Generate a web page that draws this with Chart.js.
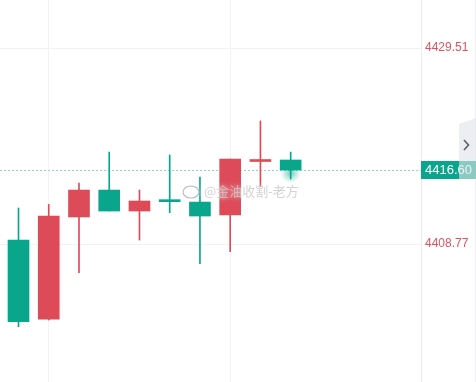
<!DOCTYPE html>
<html>
<head>
<meta charset="utf-8">
<script src="https://cdn.jsdelivr.net/npm/chart.js@4"></script>
<style>
  html, body { margin: 0; padding: 0; background: #fff; }
  #wrap { width: 476px; height: 382px; }
</style>
</head>
<body>
<div id="wrap"><canvas id="kline"></canvas></div>
<script>
// candle values
const opens  = [4409.19, 4400.83, 4411.63, 4414.48, 4412.26, 4413.45, 4413.21, 4411.84, 4417.50, 4417.66];
const closes = [4400.55, 4411.73, 4414.48, 4412.26, 4413.32, 4413.25, 4411.73, 4417.76, 4417.70, 4416.60];
const highs  = [4412.58, 4412.96, 4415.22, 4418.50, 4414.48, 4418.19, 4415.86, 4417.76, 4421.79, 4418.50];
const lows   = [4400.02, 4400.73, 4405.73, 4412.26, 4409.19, 4412.08, 4406.69, 4407.96, 4414.83, 4415.65];
const yTicks = [4408.77, 4429.51];
const lastPrice = 4416.60;
const watermark = '@金油收割-老方';

const UP = '#dd4b59';
const DOWN = '#0aa68b';
const GRID = '#f1f2f5';

var wicks = [], bodies = [], cols = [];
opens.forEach((o, i) => {
    wicks.push({x: i, y: [lows[i], highs[i]]});
    bodies.push({x: i, y: [o, closes[i]]});
    cols.push(closes[i] >= o ? UP : DOWN);
});

const extras = {
    id: 'extras',
    beforeDatasetsDraw(chart) {
        const ctx = chart.ctx, a = chart.chartArea;
        const y = Math.round(chart.scales.y.getPixelForValue(lastPrice)) + 0.5;
        ctx.save();
        ctx.strokeStyle = '#8fd9c9';
        ctx.lineWidth = 1;
        ctx.setLineDash([2, 2]);
        ctx.beginPath();
        ctx.moveTo(a.left, y);
        ctx.lineTo(a.right, y);
        ctx.stroke();
        ctx.restore();
    },
    afterDatasetsDraw(chart) {
        const ctx = chart.ctx, a = chart.chartArea;
        const xs = chart.scales.x;
        const y = chart.scales.y.getPixelForValue(lastPrice);
        const lx = xs.getPixelForValue(opens.length - 1);
        ctx.save();
        // watermark, drawn over the candles
        ctx.filter = 'blur(0.5px)';
        ctx.shadowColor = 'rgba(255,255,255,0.9)';
        ctx.shadowBlur = 4;
        ctx.fillStyle = 'rgba(200,200,200,0.8)';
        ctx.font = '13px "Noto Sans CJK SC"';
        ctx.textBaseline = 'middle';
        ctx.fillText(watermark, 204, 191);
        ctx.strokeStyle = 'rgba(175,175,175,0.85)';
        ctx.lineWidth = 1.2;
        ctx.beginPath();
        ctx.ellipse(191, 192, 8, 6, 0, 0, Math.PI * 2);
        ctx.stroke();
        ctx.filter = 'none';
        ctx.shadowBlur = 0;
        // glow under the last candle
        const g = ctx.createRadialGradient(lx, y + 3, 0, lx, y + 3, 10);
        g.addColorStop(0, 'rgba(10,166,139,0.55)');
        g.addColorStop(1, 'rgba(10,166,139,0)');
        ctx.fillStyle = g;
        ctx.fillRect(lx - 12, y - 2, 24, 16);
        // outer right edge line
        ctx.fillStyle = '#eeeef2';
        ctx.fillRect(475, 0, 1, chart.height);
        // last price tag
        ctx.fillStyle = DOWN;
        ctx.fillRect(a.right, Math.round(y) - 9, chart.width - a.right, 18);
        ctx.fillStyle = '#fff';
        ctx.font = '13px "Liberation Sans", Arial, sans-serif';
        ctx.textBaseline = 'middle';
        ctx.fillText(lastPrice.toFixed(2), a.right + 4, Math.round(y) + 0.5);
        // side tab
        ctx.fillStyle = 'rgba(225,226,234,0.6)';
        ctx.beginPath();
        ctx.moveTo(459, 124);
        ctx.lineTo(476, 118);
        ctx.lineTo(476, 179);
        ctx.lineTo(459, 179);
        ctx.closePath();
        ctx.fill();
        ctx.strokeStyle = '#5b5f6b';
        ctx.lineWidth = 1.6;
        ctx.beginPath();
        ctx.moveTo(464, 140);
        ctx.lineTo(468.5, 145);
        ctx.lineTo(464, 150);
        ctx.stroke();
        ctx.restore();
    }
};

const ctx = document.getElementById('kline').getContext('2d');
const myChart = new Chart(ctx, {
    type: 'bar',
    data: {
        datasets: [
            {
                label: 'wick',
                data: wicks,
                backgroundColor: cols,
                barThickness: 1,
                grouped: false,
                borderWidth: 0,
                borderSkipped: false
            },
            {
                label: 'body',
                data: bodies,
                backgroundColor: cols,
                barThickness: 21,
                grouped: false,
                borderWidth: 0,
                borderSkipped: false,
                minBarLength: 2
            }
        ]
    },
    options: {
        responsive: true,
        maintainAspectRatio: false,
        animation: false,
        layout: { padding: 0, autoPadding: false },
        plugins: { legend: { display: false }, tooltip: { enabled: false } },
        scales: {
            x: {
                type: 'linear',
                offset: false,
                min: -0.612,
                max: 13.31,
                afterBuildTicks: s => { s.ticks = [{value: 1}, {value: 7}]; },
                afterFit: s => { s.height = 0; s.paddingLeft = 0; s.paddingRight = 0; },
                ticks: { display: false },
                border: { display: false },
                grid: { color: GRID, drawTicks: false, offset: false }
            },
            y: {
                position: 'right',
                min: 4394.17,
                max: 4434.59,
                afterBuildTicks: s => { s.ticks = yTicks.map(v => ({value: v})); },
                afterFit: s => { s.width = 55; s.paddingTop = 0; s.paddingBottom = 0; },
                ticks: {
                    color: '#e0525e',
                    padding: 4,
                    font: { size: 12, family: '"Liberation Sans", Arial, sans-serif' },
                    callback: v => v.toFixed(2)
                },
                border: { display: true, color: '#ececf0' },
                grid: { color: GRID, drawTicks: false }
            }
        }
    },
    plugins: [extras]
});
</script>
</body>
</html>
